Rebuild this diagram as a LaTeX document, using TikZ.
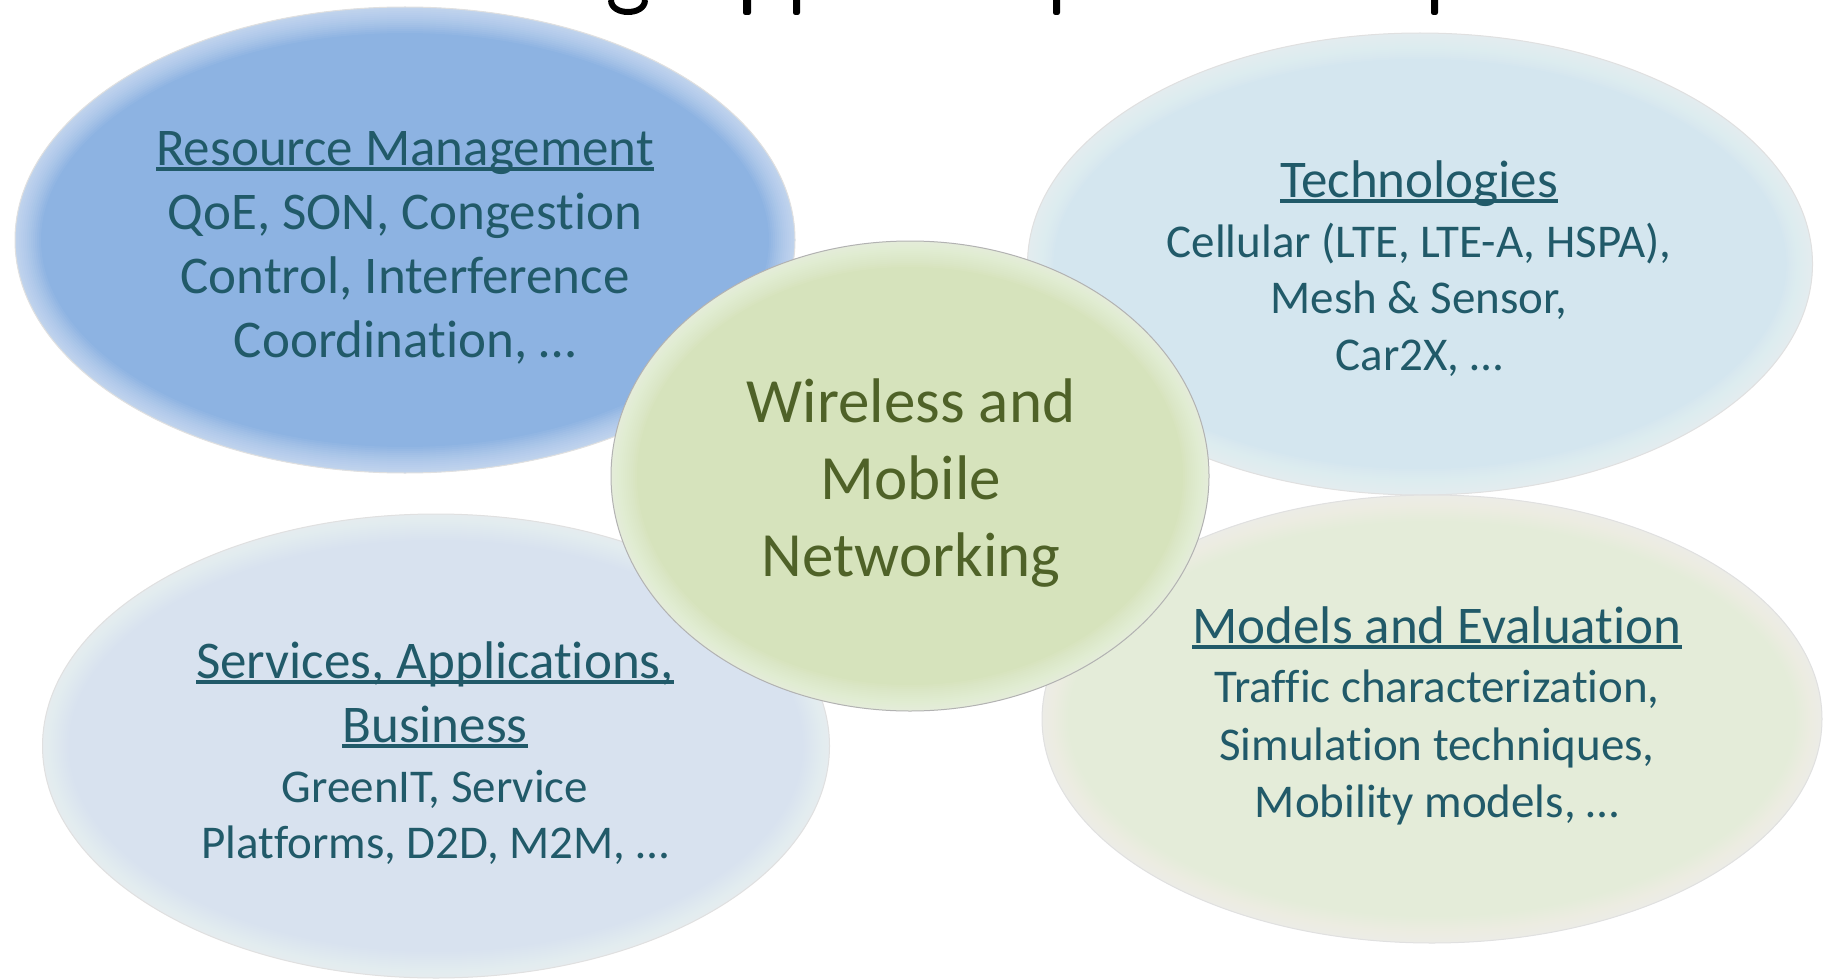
\documentclass[tikz,border=0pt]{standalone}
\usepackage{fontspec}
\setmainfont{Carlito}[Ligatures=NoCommon]
\usetikzlibrary{shapes.geometric,calc}
\definecolor{txt}{HTML}{215A69}
\definecolor{ctxt}{HTML}{4F6228}
\definecolor{rmfill}{HTML}{8DB3E2}
\definecolor{techfill}{HTML}{D4E6EF}
\definecolor{servfill}{HTML}{D8E2EF}
\definecolor{modfill}{HTML}{E4ECD9}
\definecolor{cenfill}{HTML}{D6E3BC}
\newsavebox\hdbox
\newcommand{\hd}[1]{\sbox\hdbox{#1}\rlap{\rule[-0.11em]{\wd\hdbox}{0.065em}}\usebox\hdbox}
\newcommand{\sizeH}{\fontsize{26.5pt}{32pt}\selectfont}
\newcommand{\sizeB}{\fontsize{23.5pt}{28pt}\selectfont}
\newcommand{\sizeC}{\fontsize{31.5pt}{38pt}\selectfont}
\tikzset{
  bubble/.style={ellipse, inner sep=0pt, draw=black!12, line width=0.5pt,
    path picture={
      \foreach \w in {2,4,...,26}{
        \draw[white, opacity=0.05, line width=\w pt]
          let \p1=($(path picture bounding box.north east)-(path picture bounding box.center)$) in
          (path picture bounding box.center) ellipse [x radius=\x1, y radius=\y1];
      }}},
  lbl/.style={anchor=base, inner sep=0pt, text=txt},
  clbl/.style={anchor=base, inner sep=0pt, text=ctxt, font=\sizeC},
  frag/.style={fill=black, rounded corners=1.2pt},
}
\begin{document}
\begin{tikzpicture}[x=0.5pt,y=-0.5pt]
\useasboundingbox (0,0) rectangle (1825,979);
\fill[white] (0,0) rectangle (1825,979);

% cut-off title fragments
\draw[line width=3pt] (611,0) .. controls (611,16) and (645,16) .. (645,0);
\fill[frag] (743,-5) rectangle (751,15);
\fill[frag] (793,-5) rectangle (800,15);
\fill[frag] (1053,-5) rectangle (1060,15);
\fill[frag] (1431,-5) rectangle (1438,15);

% ellipses
\node[bubble, fill=rmfill, minimum width=390pt, minimum height=233pt] (rm) at (405,240) {};
\node[bubble, fill=techfill, minimum width=392.5pt, minimum height=231pt] (tech) at (1420,264) {};
\node[bubble, fill=servfill, minimum width=393.5pt, minimum height=232pt] (serv) at (436,746) {};
\node[bubble, fill=modfill, minimum width=390pt, minimum height=224pt] (mod) at (1432,719) {};
\node[bubble, fill=cenfill, draw=black!30, minimum width=299pt, minimum height=235pt] (cen) at (910,476) {};

% Resource Management
\node[lbl, font=\sizeH] (rm1) at (405,165) {\hd{Resource Management}};
\node[lbl, font=\sizeH] (rm2) at (405,229) {QoE, SON, Congestion};
\node[lbl, font=\sizeH] (rm3) at (405,293) {Control, Interference};
\node[lbl, font=\sizeH] (rm4) at (405,357) {Coordination, …};

% Technologies
\node[lbl, font=\sizeH] (te1) at (1419,197) {\hd{Technologies}};
\node[lbl, font=\sizeB] (te2) at (1419,257) {Cellular (LTE, LTE-A, HSPA),};
\node[lbl, font=\sizeB] (te3) at (1419,313) {Mesh \& Sensor,};
\node[lbl, font=\sizeB] (te4) at (1419,370) {Car2X, …};

% Services
\node[lbl, font=\sizeH] (se1) at (435,678) {\hd{Services, Applications,}};
\node[lbl, font=\sizeH] (se2) at (435,742) {\hd{Business}};
\node[lbl, font=\sizeB] (se3) at (435,802) {GreenIT, Service};
\node[lbl, font=\sizeB] (se4) at (435,858) {Platforms, D2D, M2M, …};

% Models
\node[lbl, font=\sizeH] (mo1) at (1437,643) {\hd{Models and Evaluation}};
\node[lbl, font=\sizeB] (mo2) at (1437,702) {Traffic characterization,};
\node[lbl, font=\sizeB] (mo3) at (1437,760) {Simulation techniques,};
\node[lbl, font=\sizeB] (mo4) at (1437,817) {Mobility models, …};

% Centre
\node[clbl] (c1) at (911,422) {Wireless and};
\node[clbl] (c2) at (911,499) {Mobile};
\node[clbl] (c3) at (911,576) {Networking};
\end{tikzpicture}
\end{document}
